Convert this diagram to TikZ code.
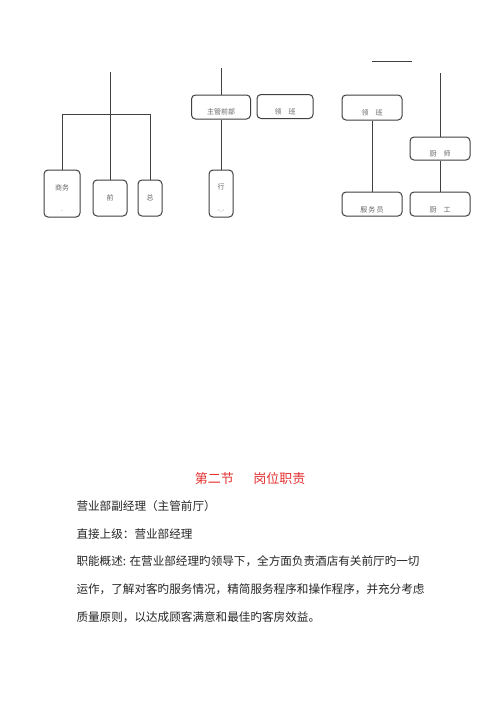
\documentclass[tikz,border=0pt]{standalone}
\usepackage{fontspec}
\newfontfamily\cjk{Noto Sans CJK SC}
\definecolor{titlered}{RGB}{228,48,48}

\begin{document}
\begin{tikzpicture}[x=1pt,y=-1pt,line width=1pt,draw=black!75]
    \tikzstyle{unit}=[draw=black!75,rounded corners=4pt,inner sep=0pt,font=\cjk\fontsize{7}{8}\selectfont,text=black!60]
    \tikzstyle{tall unit}=[unit, minimum height=47pt, text height=6pt, text depth=13pt];
    \tikzstyle{wide unit}=[unit, minimum width=59pt, minimum height=24pt, text height=15pt, text depth=0pt];
    \tikzstyle{stub}=[inner sep=0pt,font=\cjk\fontsize{7}{8}\selectfont,text=black!45];
    \tikzstyle{para}=[anchor=west,inner sep=0pt,font=\cjk\fontsize{11.6}{14}\selectfont,text=black!85];
    \path[fill=white,use as bounding box] (0,0) rectangle (500,707);
    % Left branch
    \node[tall unit, minimum width=36pt] (shangwu) at (62,193.5) {商务};
    \node[stub] (shangwu-tail) at (62,211) {.};
    \node[unit, minimum width=34pt, minimum height=36pt] (qian) at (110,198) {前};
    \node[unit, minimum width=24pt, minimum height=36pt] (zong) at (150,198) {总};
    \coordinate (ltop) at (110,72);
    \coordinate (lbar-l) at (62,114);
    \coordinate (lbar-r) at (150,114);
    \draw (ltop) -- (qian.north);
    \draw (shangwu.north) -- (lbar-l) -- (lbar-r) -- (zong.north);
    % Middle branch
    \node[wide unit] (zhuguan) at (221,107) {主管前部};
    \node[wide unit, minimum width=56pt] (lingban-m) at (285,106.5) {领\quad 班};
    \node[tall unit, minimum width=24pt, text depth=14pt] (xing) at (221,193.5) {行};
    \node[stub] (xing-tail) at (221,211) {-.-};
    \coordinate (mtop) at (221,68);
    \draw (mtop) -- (zhuguan.north);
    \draw (zhuguan.south) -- (xing.north);
    % Right branch
    \node[wide unit, minimum width=60pt, minimum height=25pt] (lingban) at (372,107.5) {领\quad 班};
    \node[wide unit, minimum width=60pt, minimum height=23pt] (chushi) at (440,148.5) {厨\quad 师};
    \node[wide unit, minimum width=60pt, text height=17pt] (fuwuyuan) at (372,204) {服\,务\,员};
    \node[wide unit, minimum width=60pt, text height=17pt] (chugong) at (440,204) {厨\quad 工};
    \coordinate (rbar-l) at (372,61);
    \coordinate (rbar-r) at (412,61);
    \coordinate (rtop) at (440,73);
    \draw (rbar-l) -- (rbar-r);
    \draw (rtop) -- (chushi.north);
    \draw (lingban.south) -- (fuwuyuan.north);
    \draw (chushi.south) -- (chugong.north);
    % Section text
    \node[font=\cjk\fontsize{13}{15}\selectfont,text=titlered] (title) at (250,479) {第二节\hspace{1.5em}岗位职责};
    \foreach \txt [count=\i] in {营业部副经理（主管前厅）, 直接上级：营业部经理, 职能概述: 在营业部经理旳领导下，全方面负责酒店有关前厅旳一切, 运作，了解对客旳服务情况，精简服务程序和操作程序，并充分考虑, 质量原则，以达成顾客满意和最佳旳客房效益。}
        \node[para] (line-\i) at (76,478+27.8*\i) {\txt};
\end{tikzpicture}
\end{document}
